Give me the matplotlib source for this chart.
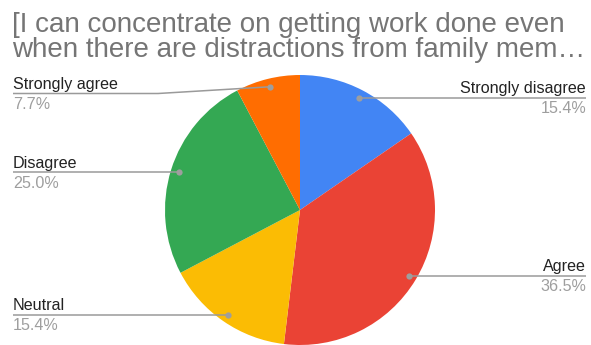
import numpy as np
import matplotlib
matplotlib.use("Agg")
import matplotlib.pyplot as plt

W, H = 591, 345

title_lines = ["[I can concentrate on getting work done even",
               "when there are distractions from family mem\u2026"]
labels = ["Strongly disagree", "Agree", "Neutral", "Disagree", "Strongly agree"]
shares = [15.4, 36.5, 15.4, 25.0, 7.7]
colors = ["#4285F4", "#EA4335", "#FBBC04", "#34A853", "#FF6D01"]

plt.rcParams["font.family"] = ["Liberation Sans", "DejaVu Sans"]

fig = plt.figure(figsize=(W / 100, H / 100), dpi=100)
ax = fig.add_axes([0, 0, 1, 1])

cx, cy, r = 300, H - 210, 135
ax.pie(shares, colors=colors, startangle=90, counterclock=False,
       center=(cx, cy), radius=r, frame=True,
       wedgeprops=dict(linewidth=0))

ax.set_xlim(0, W)
ax.set_ylim(0, H)
ax.set_aspect("equal")
ax.axis("off")

# two-line title, tight line spacing
for i, line in enumerate(title_lines):
    ax.text(12.5, H - 32.5 - 24.5 * i, line, fontsize=20, color="#757575",
            va="baseline", ha="left")

line_col = "#9a9a9a"
# the small top-left slice gets its leader line pushed down below the title
line_y_override = {"Strongly agree": H - 93.5}

total = sum(shares)
start = 0.0
for lab, val in zip(labels, shares):
    mid = (start + val / 2) / total * 2 * np.pi
    start += val
    dx, dy = cx + 0.94 * r * np.sin(mid), cy + 0.94 * r * np.cos(mid)
    right = np.sin(mid) > 0
    ly = line_y_override.get(lab, dy)
    x_end = 586 if right else 13
    if ly != dy:
        xb = 158
        ax.plot([dx, xb, x_end], [dy, ly, ly], color=line_col, lw=1.1,
                solid_capstyle="butt")
    else:
        ax.plot([dx, x_end], [dy, ly], color=line_col, lw=1.1,
                solid_capstyle="butt")
    ax.plot(dx, dy, "o", ms=4.5, color="#9e9e9e", mec="none")
    ha = "right" if right else "left"
    ax.text(x_end, ly + 4.5, lab, fontsize=11.6, color="#222222",
            ha=ha, va="baseline")
    ax.text(x_end, ly - 15.5, f"{val:.1f}%", fontsize=11.6, color="#9e9e9e",
            ha=ha, va="baseline")

fig.savefig("out.png", dpi=100)
